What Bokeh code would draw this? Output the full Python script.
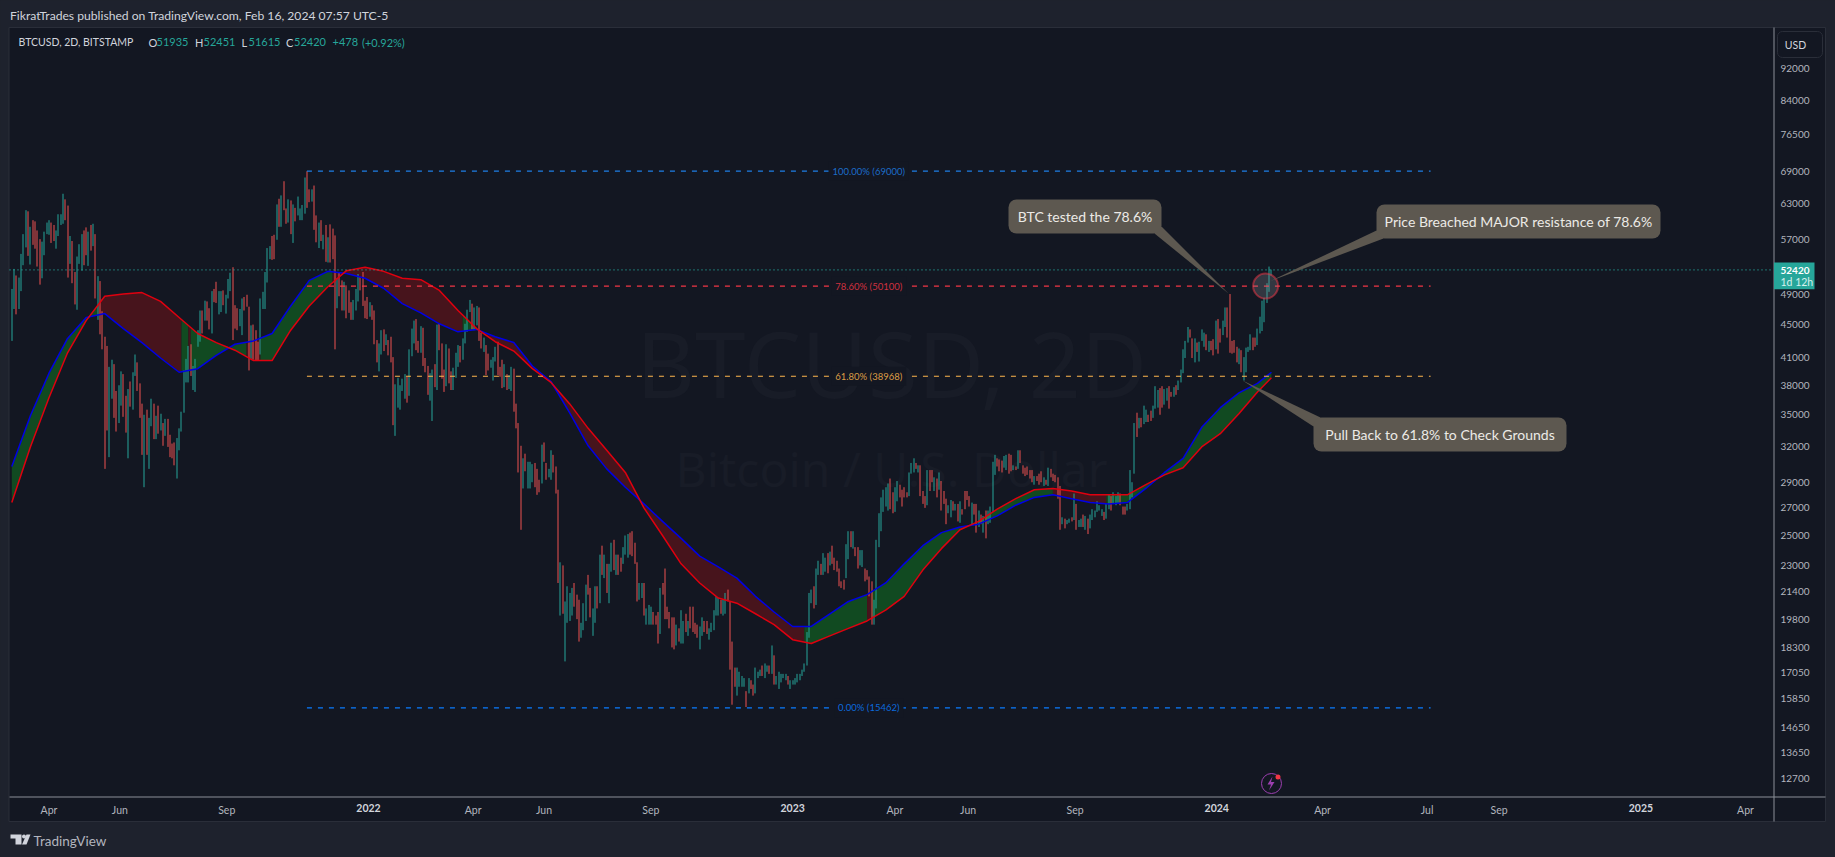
import numpy as np
import pandas as pd
from bokeh.plotting import figure
from bokeh.embed import file_html
from bokeh.resources import INLINE
from bokeh.models import (BoxAnnotation, PolyAnnotation, Label, FixedTicker, Range1d, LogAxis, LinearAxis)

# ---------- data ----------
highs = [
49700,52550,51600,51300,54800,57900,61900,61700,59100,60200,
60000,58500,57100,56700,58300,59800,60200,59800,59400,58500,
61200,61200,64800,63800,62700,57600,56800,52100,54400,56300,
57900,58500,59000,58300,59400,59600,57900,51500,50800,46700,
43500,42400,40000,40800,40300,37400,38000,39500,39200,36900,
37600,38400,39400,41400,40500,38200,36100,35000,35500,34700,
36600,36100,34900,35900,35100,34200,34600,34600,33100,32300,
32400,32800,33700,35300,39600,40900,42400,42600,40100,40900,
44300,46800,46800,48100,48000,47100,49400,49700,50700,49400,
49400,49500,48900,51100,52000,52800,47500,47100,47000,48400,
48600,48900,47300,44900,45000,44300,42900,48400,49300,52100,
55700,56000,57600,57800,62900,63900,64500,67100,62200,63800,
63600,62900,62300,64300,62200,62800,67800,69000,65600,65600,
66300,61000,59800,60200,57800,59400,57400,59500,58800,57700,
51200,52100,50900,50700,50200,49500,47900,48200,49700,51800,
51400,52100,48100,48600,47900,47500,46800,43100,42700,44300,
44400,43800,43100,43500,41100,38100,38800,38000,38700,39200,
38900,42000,44500,45500,45700,43000,44800,44600,41000,40100,
39300,39700,40300,45000,45200,42700,39700,42600,42100,39500,
39900,41600,42500,42400,43300,45100,46900,48200,47700,47200,
47400,47200,44000,43400,42500,41500,40800,41100,42300,42900,
40000,40800,40300,39200,39100,40000,39800,36100,34200,32100,
31000,31400,30700,30700,30500,30600,30100,29200,32200,32400,
30600,30100,31700,31300,30300,28400,23200,23000,20800,21700,
21300,21600,21900,21200,20900,19600,20700,21800,22400,21600,
20400,21700,21700,23700,24300,23700,23100,23100,24500,24700,
23700,23700,23500,24200,25000,25100,25200,25300,24500,23200,
21900,21900,21900,20400,20600,20500,20200,20000,20200,21600,
21900,22800,20500,20200,19900,19900,19500,19300,20300,19700,
20100,19700,20500,20500,19600,19500,19400,19900,19700,19700,
19300,19600,20300,21100,21000,20900,20900,21300,21500,20800,
18600,17300,17300,17100,16900,16800,16200,16800,16700,16500,
17300,17100,17200,17400,17500,17400,17400,18400,17900,16900,
17100,17000,17000,17000,16900,16700,16700,16800,17000,17000,
17200,17500,19100,21300,21500,21700,22800,23300,23100,23800,
23500,23800,23900,24300,23500,23300,22800,22000,22100,24400,
25300,25300,25300,24200,24200,24000,24000,22800,22700,22300,
22000,20900,24700,26600,27800,28400,28600,28900,29300,28200,
28600,29100,28800,28400,28600,28200,29800,30600,31000,30600,
30400,30400,28300,27900,30000,30000,30000,29400,29300,29800,
29100,28300,27700,27200,27600,27500,27300,27300,27500,26900,
28300,28300,27900,27400,27300,27300,26800,26500,26400,26800,
26800,27100,30700,31300,31000,30900,30800,31200,31300,31400,
31300,30400,30300,31700,31700,30400,30200,30300,30000,30000,
29500,29500,29700,29900,29400,29200,30200,30100,29700,29600,
29400,28700,26300,26200,26100,26200,26300,28100,27300,26100,
26200,26500,26400,26200,26500,26900,26800,27500,27200,26900,
26700,27300,28000,27900,28200,27900,28200,28100,27100,27100,
27300,30000,29000,34200,35200,34700,34700,35900,35500,35000,
35400,35900,37900,37500,37700,37900,37600,37700,37900,37300,
37800,38000,38500,39700,42000,43000,44700,44400,43300,43300,
42800,42900,44400,44000,43800,43000,43000,43200,45500,45700,
44500,45500,47200,47200,49000,43000,43100,42300,42100,41900,
41100,42200,42300,43800,43400,43400,44500,46000,48100,48500,
50500,52900,52451]
lows = [
43000,47000,46300,47000,49400,53100,55800,54500,53200,56200,
55600,52900,50300,51200,54600,57900,57800,56500,56800,55600,
57600,59400,59600,60200,51300,53300,50500,47600,46900,53300,
52300,53100,54600,53000,55300,56000,48400,45600,43800,42000,
30100,33500,31100,36600,34700,33400,34200,35900,34800,33300,
31000,35800,35500,39000,37400,34700,31300,28600,31300,30100,
33900,32700,32700,33200,33500,32100,33000,32000,31100,31000,
30400,29300,31700,33400,35200,38300,38300,39000,37500,37300,
42300,42900,43900,45500,45500,44400,43900,47900,47800,46300,
46600,47500,46400,48400,49400,43100,44500,44300,44800,43700,
46800,47300,39600,40900,40800,40700,40700,41400,47000,47000,
50600,54000,53900,54000,57000,59100,59100,61900,59600,59800,
57900,56500,60000,61000,60200,60200,61300,62300,63300,63400,
58600,56600,55700,56800,55500,53600,53500,53500,54000,42000,
47100,48700,46800,46800,45800,46500,45600,45600,46800,48000,
49500,47400,45800,45700,46000,45600,42600,40500,39500,41400,
41800,42500,41300,40500,34000,33000,35700,35500,37400,36600,
36200,36900,41200,42700,41900,41600,41600,40100,39400,37000,
36400,34400,37800,37500,41900,38700,37300,37900,38200,37500,
37500,38800,40000,40500,40800,42700,44100,46600,44400,44300,
44900,43000,42100,41700,39100,39600,39900,38500,40600,39100,
38900,37700,37800,37500,37600,37400,35300,33700,29800,25400,
28500,29900,28500,28500,29000,28600,28000,28200,28900,30700,
29200,29400,29200,29800,28100,21900,20000,20100,17600,19600,
19700,20000,20500,19800,18600,18800,19200,19700,21200,19900,
18900,19600,20400,20700,22400,22200,21300,20700,22600,22700,
22400,22400,22600,23100,23700,23500,23700,23600,23100,20800,
20900,21000,20000,19500,19500,19500,19500,19500,18500,19000,
21200,19800,19800,19300,18300,18200,18400,18600,18500,18500,
19100,18900,19300,19100,19000,18800,18200,18900,19100,19000,
18700,19100,19200,20000,20000,20100,20000,20100,20800,17200,
15600,16400,16000,16400,16400,16400,15500,16100,16300,16000,
16100,16800,16900,16900,16800,17100,17000,17000,16500,16500,
16300,16600,16800,16700,16500,16300,16500,16500,16600,16700,
16900,17100,17400,18800,20700,20400,20600,22400,22400,22400,
22600,22500,23000,23100,22700,22600,21700,21600,21500,22200,
23400,24200,24100,23600,22800,23000,22900,22000,22100,21100,
19500,19500,20400,24200,25300,26700,27100,26800,26900,26600,
26700,27500,27800,27100,27800,27800,27900,29700,29800,30100,
29800,27900,27300,27000,27200,28300,29000,28300,27800,28400,
26800,27300,25800,26600,26300,26800,26800,26000,25900,26500,
26900,27600,27100,25800,26500,25200,25600,25800,25200,24800,
25800,25900,26700,29600,30300,29900,29800,30200,30000,29700,
29900,30000,30000,30100,30600,29700,29500,29600,29300,29000,
28800,29100,28800,29000,28700,28800,28700,29400,29100,29000,
27700,25400,25800,25500,25800,25900,26000,26100,25400,25600,
25600,25600,25400,25100,25500,26100,26300,26700,26800,26400,
26100,26200,26900,26800,27300,27200,27300,27200,26500,26500,
26800,26900,27800,29700,32900,33700,33800,34100,34300,34300,
34400,34700,35600,35700,35000,35700,36000,36400,35600,36800,
36800,37000,37500,38300,39300,41000,42800,43400,41000,40500,
41700,40600,43000,42300,41900,41700,41900,41300,42000,41500,
42800,43700,44700,43400,41600,41500,41600,40500,40300,39400,
38500,39400,41700,41900,41900,42300,42500,43900,44200,45300,
47800,49300,51615]
dirs = (
"UUDUUUUDUD" "DDDUUUUDDU" "UUUDDUDDUU" "UDDUDUDUDD" "DDUUDDUUDD"
"UDUUDDDUDU" "UDUDUDUDDD" "DUUUUUUDUU" "UUDUDDUDDU" "UDUUUDDDUU"
"DDDUDDDUUU" "UUDDUDUDDU" "DUDUUUUDDU" "DDUDUDUDDD" "UDDUDDDUUU"
"DDDDUDDDUU" "DUDDDUUUUU" "DUUUDDUDDD" "UUDUDDDUDD" "UUUDUUUUDU"
"UDDUDDUUUD" "DDUDUUDDDD" "UDUUUDDDUD" "DUUDDDUDUU" "UUDDDUUUDD"
"UUDUDUDUUD" "UDDUUUDDDD" "UUDUUUDDDU" "DDDDDDUDUU" "DUDDDDUUDD"
"UUUUUDUUDD" "DDUUUUDUDD" "UUUDUUDUDU" "UUUUDUUUUU" "UUUUUDUUDU"
"UDUDDDDDDU" "UDUDDUUDDD" "DUUUUUUUDD" "UUDDDDUUUD" "UDDDUDDUDU"
"DDDUUDUDUD" "DDDUDDUDUD" "UUUUDDDUUD" "DUDUDDDDDD" "UDDDUDUDDD"
"DDUDUUDUDU" "UDUDUUUUUU" "DUUDUUUDDD" "UUU"
"UDUDUUDDUU" "UDDUUDDUDU" "UUUUDDUDUU" "UDUDDUDDUU" "DDDDDUDUUU" "UDDUUUUUUU")

last_bar = "2024-02-15"

ma_step = 8
ma_blue = [30300,34900,39300,43300,45900,46400,44500,42800,41000,39400,39800,41300,42600,43000,43900,47400,50900,52200,
           51900,51200,49800,47700,46500,45100,44100,44400,43500,42800,40100,38400,35200,32100,30100,28600,27300,26000,
           24800,23600,22900,22200,21100,20200,19400,19400,20100,20800,21200,21900,23100,24300,25200,25600,25800,26400,
           27200,27800,28000,27700,27400,27300,27400,28500,29800,31000,33800,35700,37200,38200,39400]
ma_red = [27400,32000,36700,41600,45500,48700,49000,49200,48000,45900,43900,42800,41900,40700,40700,44300,47400,50000,
          52300,52800,52200,51200,51000,49500,46800,44500,42900,41800,39800,38300,36100,33700,31700,29800,27000,25000,
          23100,21900,21000,20700,20100,19500,18700,18500,18900,19300,19700,20300,21100,22700,24100,25400,26000,26900,
          27700,28400,28500,28300,28000,28000,28000,28800,29600,30200,32000,33200,35100,37300,38800]
fill_changes = [37,73,76,77,101,107,138,194,200,341,368,370,448,471]

price_ticks = [92000,84000,76500,69000,63000,57000,49000,45000,41000,38000,35000,32000,29000,27000,25000,23000,21400,
               19800,18300,17050,15850,14650,13650,12700]
time_ticks = ["2021-03-30","2021-05-30","2021-08-30","2021-12-30","2022-03-30","2022-05-30","2022-08-30","2022-12-30",
              "2023-03-28","2023-05-30","2023-08-30","2023-12-30","2024-03-30","2024-06-28","2024-08-29","2024-12-29","2025-03-29"]
time_labels = ["Apr","Jun","Sep","2022","Apr","Jun","Sep","2023","Apr","Jun","Sep","2024","Apr","Jul","Sep","2025","Apr"]

fib_start, fib_end = "2021-11-07", "2024-07-01"
fib_levels = [69000, 50100, 38968, 15462]
fib_names = ["100.00% (69000)", "78.60% (50100)", "61.80% (38968)", "0.00% (15462)"]
fib_colors = ["#1e7fe6", "#f23645", "#ffb74d", "#0a7cff"]
last_price = 52420

# ---------- styles ----------
PAGE, PANEL, BORDER = "#1e222d", "#131722", "#2a2e39"
UP, DOWN = "#26a69a", "#ef5350"
TXT, AXIS_TXT = "#d1d4dc", "#b2b5be"
BUBBLE = "#5d5850"
FONT = "Lato"
WATERMARK = "#181c27"

epoch = pd.Timestamp("2021-01-01")
def day(s):
    return (pd.Timestamp(s) - epoch).days

n = len(highs)
assert len(lows) == n and len(dirs) == n, (len(lows), len(dirs), n)
end = day(last_bar)
bar_x = np.array([end - 2*(n-1-i) for i in range(n)], dtype=float)
colors = [UP if d == "U" else DOWN for d in dirs]

# The plot frame fills the whole page, so page furniture can be drawn in it;
# the axes are then fixed at the places where the chart's own panes end.
WIDTH, HEIGHT = 1835, 857
PX_PER_DAY = 1.162
PX_PER_LOG = 358.8
def day_at(px):
    return end + (px - 1270.9)/PX_PER_DAY
def price_at(py):
    return 92000*np.exp(-(py - 67.5)/PX_PER_LOG)

x_left = day_at(0)
# bars sit on whole device pixels, as the original renderer does
bar_sx = x_left + (np.floor((bar_x - x_left)*PX_PER_DAY) + 0.5)/PX_PER_DAY

p = figure(frame_width=WIDTH, frame_height=HEIGHT, x_range=Range1d(x_left, day_at(WIDTH)),
           y_range=Range1d(price_at(HEIGHT), price_at(0)),
           y_axis_type="log", x_axis_location=None, y_axis_location=None, output_backend="svg", toolbar_location=None,
           background_fill_color=PAGE, border_fill_color=PAGE,
           min_border_left=0, min_border_right=0, min_border_top=0, min_border_bottom=0)
p.outline_line_color = None
p.grid.visible = False

def box(l, t, r, b, fill, line=None, radius=0, level="annotation", alpha=1.0):
    p.add_layout(BoxAnnotation(left=l, right=r, top=t, bottom=b,
                               left_units="canvas", right_units="canvas", top_units="canvas", bottom_units="canvas",
                               fill_color=fill, fill_alpha=alpha, line_color=line, line_alpha=1.0 if line else 0,
                               border_radius=radius, level=level))

def poly(pts, fill, alpha=1.0, line=None, level="annotation"):
    p.add_layout(PolyAnnotation(xs=[a for a, _ in pts], ys=[b for _, b in pts], xs_units="canvas", ys_units="canvas",
                                fill_color=fill, fill_alpha=alpha, line_color=line, line_alpha=1.0 if line else 0, level=level))

def text(s, x, y, size, color, align="left", font=FONT, style="normal", level="annotation"):
    p.add_layout(Label(x=x, y=y, x_units="canvas", y_units="canvas", text=s, text_font=font, text_font_size=f"{size}px",
                       text_color=color, text_align=align, text_baseline="middle", text_font_style=style, level=level))

# panels
box(8.5, 27, 1825, 821, PANEL, line=BORDER, level="underlay")
box(1773, 27, 1774, 821, "#8c8f97", level="underlay")
box(9, 796, 1825, 797, "#8c8f97", level="underlay")
# watermark
text("BTCUSD, 2D", 891, 362, 91, WATERMARK, "center", "Noto Sans", level="underlay")
text("Bitcoin / U.S. Dollar", 891, 468, 48, WATERMARK, "center", "Noto Sans", level="underlay")

# moving-average ribbon
ma_idx = list(range(0, n, ma_step))
if ma_idx[-1] != n-1:
    ma_idx.append(n-1)
ma_idx = np.array(ma_idx)
ma_x = bar_x[ma_idx]
log_b, log_r = np.log(ma_blue), np.log(ma_red)
edges = [0] + fill_changes + [n-1]
for k in range(len(edges)-1):
    a, b = edges[k], edges[k+1]
    inner = ma_idx[(ma_idx > a) & (ma_idx < b)]
    idx = np.concatenate([[a], inner, [b]]).astype(float)
    xs = np.interp(idx, np.arange(n), bar_x)
    p.varea(x=xs, y1=np.exp(np.interp(idx, ma_idx, log_b)), y2=np.exp(np.interp(idx, ma_idx, log_r)),
            fill_color="#114a21" if k % 2 == 0 else "#47141c")

# bars
p.segment(x0=bar_sx, x1=bar_sx, y0=lows, y1=highs, line_color=colors, line_width=1)

# ribbon edges
p.line(ma_x, ma_blue, line_color="#0000e6", line_width=1.5, line_join="round")
p.line(ma_x, ma_red, line_color="#e0000f", line_width=1.5, line_join="round")

# fibonacci levels
fs, fe = day(fib_start), day(fib_end)
for lv, nm, c in zip(fib_levels, fib_names, fib_colors):
    p.line([fs, fe], [lv, lv], line_color=c, line_width=1.2, line_dash="5 6")
    p.add_layout(Label(x=(fs+fe)/2, y=lv, text=nm, text_color=c, text_alpha=0.85, text_font=FONT, text_font_size="9.5px",
                       text_align="center", text_baseline="middle", background_fill_color=PANEL, padding=4))

# last price line
p.line([day_at(9), day_at(1773)], [last_price, last_price], line_color=UP, line_width=1.2, line_dash="1 3")

# highlighted zone
p.scatter([day("2024-02-10")], [fib_levels[1]], marker="circle", size=25, fill_color="#9598a1", fill_alpha=0.25,
          line_color="#f23645", line_alpha=0.5, line_width=2)

# axes
def style_axis(ax, size, color=AXIS_TXT, style="normal"):
    ax.major_tick_line_color = None
    ax.minor_tick_line_color = None
    ax.major_tick_out = 0
    ax.major_tick_in = 0
    ax.axis_line_color = None
    ax.major_label_standoff = 7
    ax.major_label_text_color = color
    ax.major_label_text_font = FONT
    ax.major_label_text_font_size = size
    ax.major_label_text_font_style = style

y_ax = LogAxis(fixed_location=day_at(1773), ticker=FixedTicker(ticks=price_ticks),
               major_label_overrides={t: str(t) for t in price_ticks})
style_axis(y_ax, "10px")
p.add_layout(y_ax, "right")

tt = [day(t) for t in time_ticks]
month_ticks = [t for t, l in zip(tt, time_labels) if not l.isdigit()]
year_ticks = [t for t, l in zip(tt, time_labels) if l.isdigit()]
labels_by_tick = dict(zip(tt, time_labels))
x_ax = LinearAxis(fixed_location=price_at(796), ticker=FixedTicker(ticks=month_ticks),
                  major_label_overrides={t: labels_by_tick[t] for t in month_ticks})
style_axis(x_ax, "10.5px")
p.add_layout(x_ax, "below")
x_years = LinearAxis(fixed_location=price_at(796), ticker=FixedTicker(ticks=year_ticks),
                     major_label_overrides={t: labels_by_tick[t] for t in year_ticks})
style_axis(x_years, "10.5px", TXT, "bold")
p.add_layout(x_years, "below")

# header and legend
text("FikratTrades published on TradingView.com, Feb 16, 2024 07:57 UTC-5", 9.5, 15, 12.15, TXT)
text("BTCUSD, 2D, BITSTAMP", 18, 41.5, 10.5, TXT)
for s, x, c in [("O",148,TXT),("51935",156,UP),("H",194.5,TXT),("52451",203,UP),("L",241,TXT),("51615",248,UP),
                ("C",285.5,TXT),("52420",293.5,UP),("+478",332,UP),("(+0.92%)",361.5,UP)]:
    text(s, x, 41.5, 11, c)

# USD button and price tag
box(1777, 31, 1822, 57, PANEL, line=BORDER, radius=5)
text("USD", 1795, 44.5, 10.5, TXT, "center")
box(1773.5, 262, 1814, 288.7, UP)
text("52420", 1780, 269.5, 10, "#ffffff", "left", FONT, "bold")
text("1d 12h", 1780, 281.5, 10.5, "#d6f1ee", "left")

# callouts
poly([(1154, 233), (1161, 226), (1228, 293)], BUBBLE)
box(1008, 199, 1161, 233, BUBBLE, radius=8)
text("BTC tested the 78.6%", 1084.5, 216, 14, "#eceae6", "center")
poly([(1376, 230), (1383, 238), (1269, 281)], BUBBLE)
box(1376, 204, 1660, 238, BUBBLE, radius=8)
text("Price Breached MAJOR resistance of 78.6%", 1518, 221, 14, "#eceae6", "center")
poly([(1242, 380), (1320, 417), (1313, 426)], BUBBLE)
box(1313, 417, 1566, 451, BUBBLE, radius=8)
text("Pull Back to 61.8% to Check Grounds", 1439.5, 434, 14, "#eceae6", "center")

# news icon
box(1261, 773, 1281, 793, None, line="#9c3fb0", radius=10)
poly([(1272, 776), (1267, 784), (1270.5, 784), (1268.5, 790), (1274, 781.5), (1270.5, 781.5)], "#9c3fb0")
box(1275, 774, 1280, 779, "#f23645", radius=3)

# footer logo
LOGO = "#d1d4dc"
poly([(10, 834), (21, 834), (21, 844), (15, 844), (15, 838), (10, 838)], LOGO)
poly([(26, 834), (30, 834), (26, 844), (21.5, 844)], LOGO)
box(21.5, 834, 25.5, 838, LOGO, radius=2)
text("TradingView", 33, 840, 13.5, AXIS_TXT)

html = file_html(p, INLINE)
html = html.replace("<body>", f'<body style="background:{PAGE}">')
open("out.html", "w").write(html)
